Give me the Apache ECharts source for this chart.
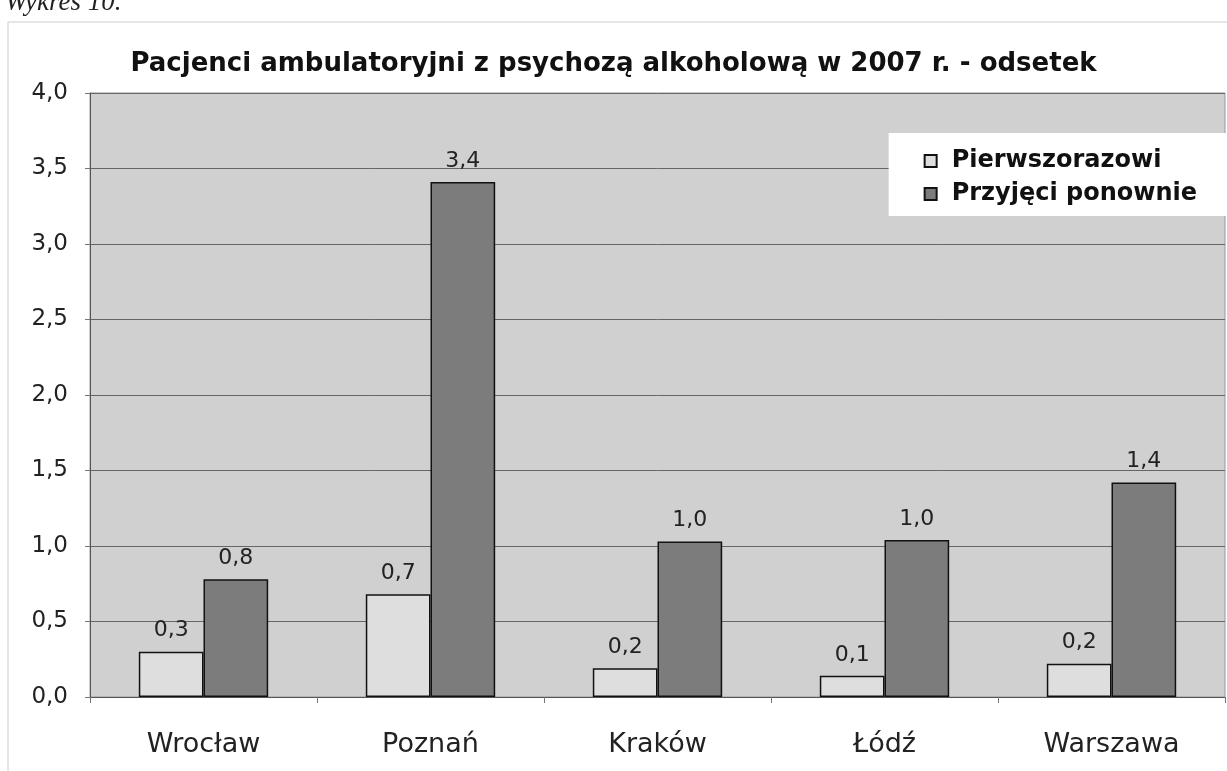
<!DOCTYPE html>
<html>
<head>
<meta charset="utf-8">
<script src="https://cdn.jsdelivr.net/npm/echarts@6/dist/echarts.min.js"></script>
<style>
  html, body { margin: 0; padding: 0; background: #fff; }
  #chart { width: 1227px; height: 771px; }
</style>
</head>
<body>
<div id="chart"></div>
<script>
var cities = ['Wrocław', 'Poznań', 'Kraków', 'Łódź', 'Warszawa'];
var pierwszorazowi = [0.3, 0.68, 0.19, 0.14, 0.22];
var przyjeciPonownie = [0.78, 3.41, 1.03, 1.04, 1.42];

function pl(v) {
    return v.toFixed(1).replace('.', ',');
}

var myChart = echarts.init(document.getElementById('chart'));

var labelStyle = {
    show: true,
    position: 'top',
    distance: 10,
    color: '#222',
    fontSize: 22,
    fontFamily: 'DejaVu Sans',
    formatter: function (p) { return pl(p.value); }
};

var option = {
    backgroundColor: '#fff',
    animation: false,
    title: [{
        text: 'Pacjenci ambulatoryjni z psychozą alkoholową w 2007 r. - odsetek',
        left: 'center',
        top: 46,
        textStyle: {
            fontFamily: 'DejaVu Sans',
            fontSize: 26,
            fontWeight: 'bold',
            color: '#111'
        }
    }, {
        text: 'Wykres 10.',
        left: 0,
        top: -16,
        textStyle: {
            fontFamily: 'Liberation Serif, serif',
            fontStyle: 'italic',
            fontWeight: 'normal',
            fontSize: 27,
            color: '#222'
        }
    }],
    graphic: [{
        type: 'rect',
        shape: { x: 8, y: 22, width: 1230, height: 760 },
        style: { fill: 'none', stroke: '#ccc', lineWidth: 1 },
        silent: true
    }],
    legend: {
        orient: 'vertical',
        right: 0,
        top: 133,
        backgroundColor: '#fff',
        padding: [16, 30, 10, 35],
        itemGap: 9,
        itemWidth: 12,
        itemHeight: 12,
        icon: 'rect',
        textStyle: {
            fontFamily: 'DejaVu Sans',
            fontSize: 24,
            fontWeight: 'bold',
            color: '#111',
            padding: [0, 0, 0, 10]
        },
        data: ['Pierwszorazowi', 'Przyjęci ponownie']
    },
    grid: {
        left: 90,
        right: 2,
        top: 93,
        bottom: 74,
        show: true,
        backgroundColor: '#d0d0d0',
        borderColor: '#999',
        borderWidth: 1
    },
    xAxis: {
        type: 'category',
        data: cities,
        axisLine: { show: true, lineStyle: { color: '#555', width: 1 } },
        axisTick: { show: true, length: 6, lineStyle: { color: '#777' } },
        axisLabel: {
            margin: 34,
            color: '#222',
            fontSize: 27,
            fontFamily: 'DejaVu Sans'
        }
    },
    yAxis: {
        type: 'value',
        min: 0,
        max: 4,
        interval: 0.5,
        axisLine: { show: true, lineStyle: { color: '#555', width: 1 } },
        axisTick: { show: true, length: 5, lineStyle: { color: '#777' } },
        axisLabel: {
            margin: 22,
            color: '#222',
            fontSize: 23,
            fontFamily: 'DejaVu Sans',
            formatter: function (v) { return pl(v); }
        },
        splitLine: { show: true, lineStyle: { color: '#666', width: 1 } }
    },
    series: [{
        name: 'Pierwszorazowi',
        type: 'bar',
        barGap: '0%',
        barCategoryGap: '43%',
        data: pierwszorazowi,
        itemStyle: { color: '#dedede', borderColor: '#111', borderWidth: 1.5 },
        label: labelStyle
    }, {
        name: 'Przyjęci ponownie',
        type: 'bar',
        data: przyjeciPonownie,
        itemStyle: { color: '#7c7c7c', borderColor: '#111', borderWidth: 1.5 },
        label: labelStyle
    }]
};
myChart.setOption(option);
</script>
</body>
</html>
